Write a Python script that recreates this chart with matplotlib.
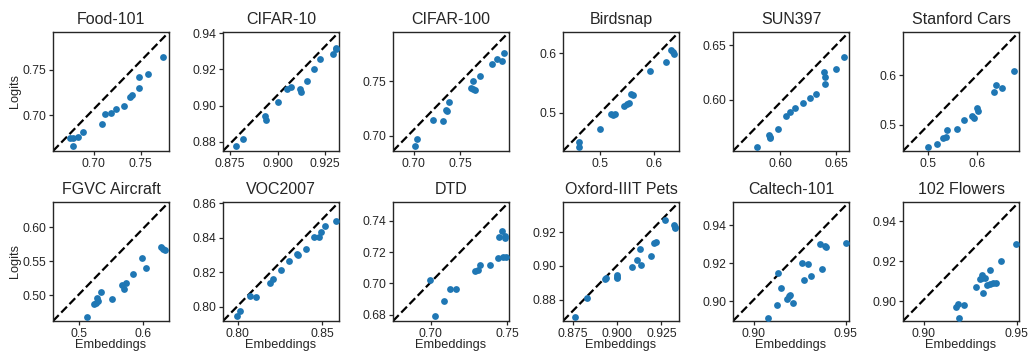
import matplotlib
matplotlib.use("Agg")
import matplotlib.pyplot as plt

plt.rcParams['font.family'] = ['Liberation Sans', 'DejaVu Sans']

titles = ["Food-101", "CIFAR-10", "CIFAR-100", "Birdsnap", "SUN397", "Stanford Cars",
          "FGVC Aircraft", "VOC2007", "DTD", "Oxford-IIIT Pets", "Caltech-101", "102 Flowers"]

# accuracy when classifying with embeddings (x) vs. logits (y)
food_x = [0.675, 0.6785, 0.683, 0.689, 0.6785, 0.7085, 0.712, 0.7187, 0.7236, 0.732, 0.739, 0.741, 0.748, 0.748, 0.758, 0.7736]
food_y = [0.6748, 0.6748, 0.6766, 0.6821, 0.666, 0.6905, 0.7015, 0.7026, 0.7073, 0.7099, 0.720, 0.7226, 0.730, 0.7416, 0.7456, 0.7642]

cifar10_x = [0.878, 0.8817, 0.8935, 0.8939, 0.900, 0.905, 0.9072, 0.9116, 0.9122, 0.9156, 0.9192, 0.9224, 0.9292, 0.9305, 0.9308]
cifar10_y = [0.8775, 0.8814, 0.8941, 0.8919, 0.902, 0.9092, 0.910, 0.9092, 0.9074, 0.9135, 0.920, 0.9257, 0.9284, 0.9312, 0.9319]

cifar100_x = [0.7011, 0.7036, 0.7204, 0.7318, 0.7343, 0.7361, 0.7379, 0.7618, 0.7639, 0.7657, 0.7636, 0.7707, 0.7836, 0.7896, 0.7943, 0.7968]
cifar100_y = [0.6908, 0.6972, 0.7147, 0.7132, 0.7236, 0.7227, 0.731, 0.7436, 0.7429, 0.7423, 0.7497, 0.7543, 0.7653, 0.7706, 0.7684, 0.7758]

birdsnap_x = [0.4594, 0.4594, 0.4994, 0.5206, 0.5238, 0.5269, 0.545, 0.55, 0.5531, 0.5569, 0.5613, 0.5931, 0.6238, 0.6325, 0.6356, 0.6381]
birdsnap_y = [0.4511, 0.4427, 0.4725, 0.4972, 0.4961, 0.4972, 0.5112, 0.5146, 0.5157, 0.5309, 0.5292, 0.5691, 0.5848, 0.6045, 0.6017, 0.5989]

sun397_x = [0.5799, 0.5902, 0.5908, 0.5911, 0.5985, 0.6053, 0.6089, 0.6136, 0.6204, 0.6263, 0.6317, 0.6388, 0.6402, 0.6396, 0.6497, 0.6568]
sun397_y = [0.5567, 0.5678, 0.566, 0.5644, 0.5727, 0.585, 0.5887, 0.5926, 0.5966, 0.6012, 0.6049, 0.6255, 0.6206, 0.6147, 0.6279, 0.6393]

cars_x = [0.5, 0.5177, 0.5313, 0.5374, 0.5388, 0.5599, 0.5728, 0.5891, 0.5946, 0.6007, 0.6014, 0.634, 0.6395, 0.6503, 0.6755]
cars_y = [0.4557, 0.4611, 0.4738, 0.4758, 0.4893, 0.4913, 0.5094, 0.5174, 0.5148, 0.5349, 0.5282, 0.5664, 0.5805, 0.5745, 0.6074]

aircraft_x = [0.513, 0.524, 0.526, 0.5281, 0.5297, 0.5339, 0.5516, 0.5677, 0.5698, 0.5734, 0.5844, 0.599, 0.6052, 0.6286, 0.6318, 0.6344]
aircraft_y = [0.4685, 0.4872, 0.4892, 0.4956, 0.4921, 0.5049, 0.4946, 0.5158, 0.5094, 0.5182, 0.531, 0.5552, 0.5399, 0.5709, 0.5685, 0.566]

voc_x = [0.7996, 0.8014, 0.8075, 0.8107, 0.819, 0.8209, 0.8259, 0.8302, 0.8354, 0.8358, 0.8407, 0.8453, 0.8484, 0.8496, 0.852, 0.8585]
voc_y = [0.7948, 0.7975, 0.8064, 0.8058, 0.8135, 0.8161, 0.8211, 0.8265, 0.8306, 0.830, 0.8335, 0.8406, 0.8401, 0.843, 0.8468, 0.8494]

dtd_x = [0.6996, 0.7029, 0.709, 0.7125, 0.7167, 0.7292, 0.7311, 0.7325, 0.7386, 0.7439, 0.7447, 0.7467, 0.7482, 0.7487, 0.7474, 0.7493]
dtd_y = [0.7023, 0.6791, 0.6885, 0.6964, 0.6964, 0.7081, 0.7088, 0.712, 0.7117, 0.716, 0.7293, 0.7337, 0.7303, 0.7288, 0.7171, 0.7171]

pets_x = [0.8762, 0.8831, 0.8933, 0.8939, 0.900, 0.900, 0.900, 0.9082, 0.9114, 0.9129, 0.9137, 0.919, 0.9209, 0.922, 0.9272, 0.9323, 0.9329, 0.9327]
pets_y = [0.8698, 0.881, 0.8922, 0.8928, 0.8948, 0.8936, 0.8928, 0.8996, 0.9036, 0.9098, 0.9004, 0.9056, 0.9136, 0.9142, 0.9272, 0.9242, 0.9222, 0.9232]

caltech_x = [0.9075, 0.9125, 0.913, 0.915, 0.918, 0.9189, 0.9194, 0.9211, 0.926, 0.9271, 0.9295, 0.9311, 0.937, 0.9359, 0.9385, 0.9394, 0.950]
caltech_y = [0.8911, 0.8979, 0.9146, 0.9071, 0.9013, 0.9029, 0.9032, 0.8988, 0.920, 0.9114, 0.9198, 0.913, 0.9168, 0.930, 0.9291, 0.9288, 0.9309]

flowers_x = [0.9176, 0.9182, 0.9189, 0.9216, 0.9279, 0.9302, 0.9311, 0.9315, 0.9329, 0.932, 0.9338, 0.9356, 0.9358, 0.9374, 0.9387, 0.9417, 0.9496]
flowers_y = [0.8968, 0.8986, 0.8914, 0.898, 0.9068, 0.9111, 0.913, 0.9116, 0.9115, 0.9041, 0.9078, 0.9084, 0.9157, 0.9089, 0.9089, 0.9199, 0.9284]

xs = [food_x, cifar10_x, cifar100_x, birdsnap_x, sun397_x, cars_x,
      aircraft_x, voc_x, dtd_x, pets_x, caltech_x, flowers_x]
ys = [food_y, cifar10_y, cifar100_y, birdsnap_y, sun397_y, cars_y,
      aircraft_y, voc_y, dtd_y, pets_y, caltech_y, flowers_y]

x_ticks = [[0.70, 0.75], [0.875, 0.900, 0.925], [0.70, 0.75], [0.5, 0.6], [0.60, 0.65], [0.5, 0.6],
           [0.5, 0.6], [0.80, 0.85], [0.70, 0.75], [0.875, 0.900, 0.925], [0.90, 0.95], [0.90, 0.95]]
y_ticks = [[0.70, 0.75], [0.88, 0.90, 0.92, 0.94], [0.70, 0.75], [0.5, 0.6], [0.60, 0.65], [0.5, 0.6],
           [0.50, 0.55, 0.60], [0.80, 0.82, 0.84, 0.86], [0.68, 0.70, 0.72, 0.74], [0.88, 0.90, 0.92],
           [0.90, 0.92, 0.94], [0.90, 0.92, 0.94]]

# axis ranges (x_lo, x_hi, y_lo, y_hi)
limits = [(0.657, 0.780, 0.661, 0.791), (0.8713, 0.9323, 0.8749, 0.9406), (0.678, 0.802, 0.686, 0.795),
          (0.430, 0.6475, 0.4354, 0.6354), (0.5583, 0.6612, 0.5528, 0.662), (0.449, 0.6857, 0.4477, 0.6866),
          (0.4594, 0.6406, 0.4621, 0.6374), (0.7913, 0.8601, 0.7917, 0.8606), (0.6754, 0.7511, 0.6759, 0.752),
          (0.8696, 0.9349, 0.8674, 0.9378), (0.8886, 0.9518, 0.8895, 0.9523), (0.8888, 0.9513, 0.89, 0.9495)]

W, H = 1031, 352
fig = plt.figure(figsize=(W / 100, H / 100), dpi=100)
text_color = '0.15'

for i in range(12):
    row, col = divmod(i, 6)
    left = 53 + 170 * col
    top = 32 + 170 * row
    ax = fig.add_axes([left / W, 1 - (top + 119) / H, 116 / W, 119 / H])
    ax.scatter(xs[i], ys[i], s=24, color='#1f77b4', linewidths=0, zorder=3)
    ax.plot([0, 1], [0, 1], transform=ax.transAxes, color='black', ls='--', lw=1.6, zorder=2)
    xl0, xl1, yl0, yl1 = limits[i]
    ax.set_xlim(xl0, xl1)
    ax.set_ylim(yl0, yl1)
    ax.set_xticks(x_ticks[i])
    ax.set_yticks(y_ticks[i])
    ax.set_title(titles[i], fontsize=11.5, color=text_color, pad=6)
    ax.tick_params(direction='out', length=3, width=0.9, colors=text_color, labelsize=8.8, pad=2)
    for sp in ax.spines.values():
        sp.set_color(text_color)
        sp.set_linewidth(1.0)
    if col == 0:
        ax.set_ylabel("Logits", fontsize=9.2, color=text_color, labelpad=1)
    if row == 1:
        ax.set_xlabel("Embeddings", fontsize=9.2, color=text_color, labelpad=-0.5)

fig.savefig("out.png", dpi=100)
